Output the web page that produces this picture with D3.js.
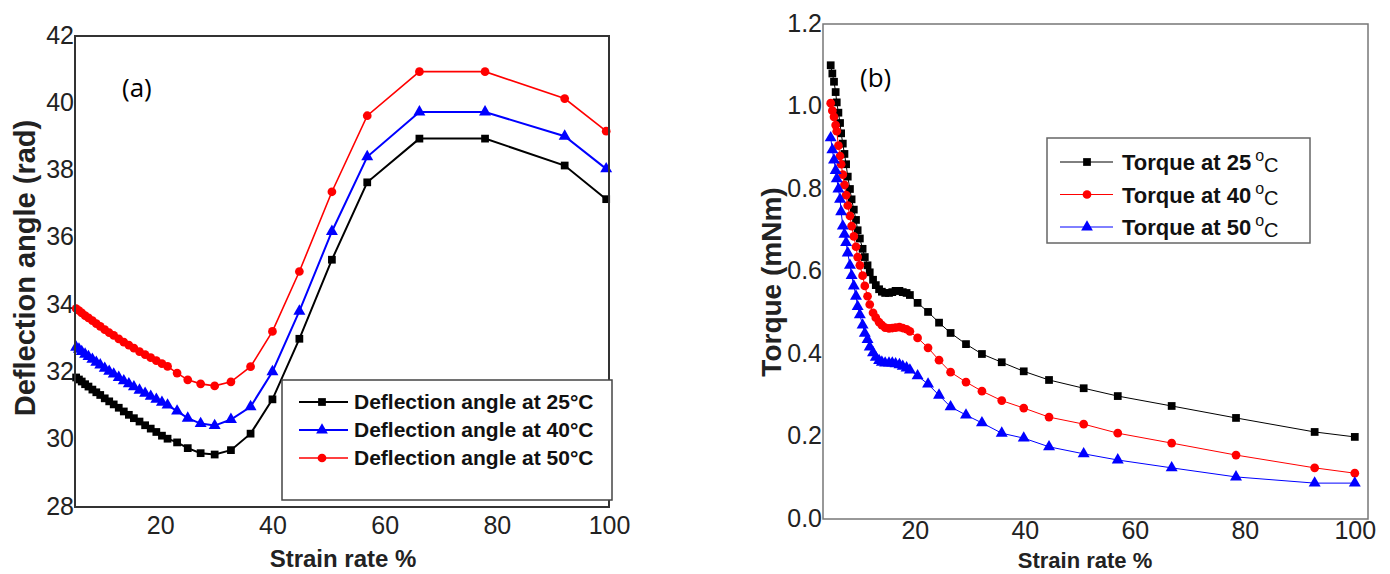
<!DOCTYPE html>
<html>
<head>
<meta charset="utf-8">
<script src="https://cdn.jsdelivr.net/npm/d3@7"></script>
<style>
  body { margin: 0; background: #fff; }
</style>
</head>
<body>
<script>

/* DONNÉES (a) : angle de déflexion */
var strainA = [5.0, 5.5, 6.0, 6.6, 7.2, 7.9, 8.6, 9.3, 10.1, 10.9, 11.7, 12.6, 13.5, 14.4, 15.3, 16.3, 17.3, 18.3, 19.3, 20.3, 21.3,
  23.0, 24.9, 27.2, 29.7, 32.6, 36.1, 40.0, 44.8, 50.6, 56.9, 66.2, 77.9, 92.1, 99.5]
var angle25 = [31.85, 31.79, 31.73, 31.65, 31.58, 31.49, 31.41, 31.33, 31.23, 31.14, 31.05, 30.95, 30.84, 30.74, 30.64, 30.54, 30.43, 30.33, 30.23, 30.12, 30.03,
  29.92, 29.75, 29.6, 29.56, 29.69, 30.18, 31.2, 33.0, 35.35, 37.65, 38.95, 38.95, 38.15, 37.15]
var angle40 = [32.75, 32.69, 32.62, 32.54, 32.47, 32.39, 32.30, 32.22, 32.12, 32.03, 31.95, 31.85, 31.75, 31.66, 31.57, 31.47, 31.38, 31.29, 31.2, 31.11, 31.03,
  30.85, 30.64, 30.48, 30.42, 30.6, 30.98, 32.02, 33.82, 36.19, 38.41, 39.74, 39.74, 39.02, 38.05]
var angle50 = [33.9, 33.84, 33.77, 33.69, 33.62, 33.54, 33.45, 33.37, 33.27, 33.18, 33.1, 33.0, 32.9, 32.81, 32.72, 32.62, 32.53, 32.44, 32.35, 32.26, 32.18,
  31.98, 31.78, 31.66, 31.6, 31.72, 32.17, 33.22, 35.0, 37.37, 39.63, 40.94, 40.94, 40.14, 39.17]
var angleLegend = ["Deflection angle at 25°C", "Deflection angle at 40°C", "Deflection angle at 50°C"]
var angleTicksX = [20, 40, 60, 80, 100]
var angleTicksY = [28, 30, 32, 34, 36, 38, 40, 42]

/* DONNÉES (b) : couple */
var strainB = [4.7, 5.0, 5.3, 5.6, 5.8, 6.1, 6.4, 6.6, 6.9, 7.2, 7.5, 7.8, 8.2, 8.5, 8.9, 9.3, 9.6, 10.0,
  10.5, 10.9, 11.4, 11.8, 12.4, 12.9, 13.5, 14.0, 14.6, 15.3, 15.9, 16.5, 17.2, 17.8, 18.5, 19.1,
  20.5, 22.4, 24.4, 26.5, 29.3, 32.2, 35.8, 39.8, 44.4, 50.7, 56.9, 66.7, 78.4, 92.7, 100]
var torque25 = [1.10, 1.08, 1.06, 1.035, 1.01, 0.985, 0.96, 0.935, 0.91, 0.885, 0.86, 0.83, 0.80, 0.775, 0.75, 0.725, 0.70, 0.68,
  0.655, 0.635, 0.615, 0.598, 0.58, 0.567, 0.557, 0.551, 0.548, 0.548, 0.55, 0.553, 0.553, 0.55, 0.548, 0.543,
  0.524, 0.502, 0.476, 0.451, 0.424, 0.40, 0.38, 0.358, 0.337, 0.317, 0.298, 0.274, 0.245, 0.211, 0.199]
var torque40 = [1.008, 0.99, 0.975, 0.955, 0.94, 0.905, 0.88, 0.86, 0.835, 0.81, 0.785, 0.76, 0.735, 0.71, 0.685, 0.66, 0.635, 0.615,
  0.59, 0.565, 0.54, 0.52, 0.50, 0.488, 0.477, 0.47, 0.464, 0.462, 0.463, 0.464, 0.465, 0.463, 0.46, 0.455,
  0.439, 0.415, 0.385, 0.356, 0.332, 0.31, 0.287, 0.269, 0.247, 0.23, 0.208, 0.184, 0.155, 0.124, 0.111]
var torque50 = [0.924, 0.895, 0.87, 0.845, 0.825, 0.80, 0.775, 0.745, 0.71, 0.69, 0.67, 0.645, 0.615, 0.59, 0.565, 0.54, 0.515, 0.495,
  0.47, 0.45, 0.435, 0.417, 0.403, 0.392, 0.384, 0.38, 0.378, 0.378, 0.378, 0.376, 0.374, 0.37, 0.366, 0.361,
  0.347, 0.327, 0.30, 0.272, 0.252, 0.233, 0.208, 0.196, 0.175, 0.158, 0.143, 0.124, 0.102, 0.087, 0.087]
var torqueLegend = ["25", "40", "50"]
var torqueTicksX = [20, 40, 60, 80, 100]
var torqueTicksY = [0.0, 0.2, 0.4, 0.6, 0.8, 1.0, 1.2]

var svg = d3.select("body").append("svg")
  .attr("width", 1390)
  .attr("height", 574)

var tickFont = "'Liberation Sans', Arial, sans-serif"
var boldFont = "'Liberation Sans', Arial, sans-serif"

function axes(x, y, fmtY, ticksX, ticksY, padX) {
  var gx = svg.append("g")
    .attr("transform", "translate(0," + y.range()[0] + ")")
    .call(d3.axisBottom(x).tickValues(ticksX).tickSize(0).tickPadding(padX))
  var gy = svg.append("g")
    .attr("transform", "translate(" + x.range()[0] + ",0)")
    .call(d3.axisLeft(y).tickValues(ticksY).tickSize(0).tickPadding(1).tickFormat(d3.format(fmtY)))
  ;[gx, gy].forEach(function(g) {
    g.select(".domain").remove()
    g.selectAll("text")
      .attr("font-family", tickFont)
      .attr("font-size", 25)
      .attr("fill", "#222")
  })
  gy.selectAll("text").attr("dy", "0.28em")
}

function serie(x, y, xs, ys, color, shape, width) {
  var pts = xs.map(function(d, i) { return [d, ys[i]] })
  svg.append("path")
    .datum(pts)
    .attr("fill", "none")
    .attr("stroke", color)
    .attr("stroke-width", width)
    .attr("d", d3.line().x(function(d) { return x(d[0]) }).y(function(d) { return y(d[1]) }))
  svg.append("g").selectAll("path")
    .data(pts)
    .enter()
    .append("path")
    .attr("transform", function(d) { return "translate(" + x(d[0]) + "," + y(d[1]) + ")" })
    .attr("d", d3.symbol().type(shape).size(shape == d3.symbolTriangle ? 62 : 60))
    .attr("fill", color)
}

/* GRAPHIQUE (a) */

var xA = d3.scaleLinear().domain([4.8, 100]).range([75, 609])
var yA = d3.scaleLinear().domain([28, 42]).range([507, 36])

axes(xA, yA, "d", angleTicksX, angleTicksY, 9)

serie(xA, yA, strainA, angle25, "#000", d3.symbolSquare, 2)
serie(xA, yA, strainA, angle40, "#0000ff", d3.symbolTriangle, 2)
serie(xA, yA, strainA, angle50, "#ff0000", d3.symbolCircle, 1.6)

svg.append("rect")
  .attr("x", 75).attr("y", 36).attr("width", 534).attr("height", 471)
  .attr("fill", "none").attr("stroke", "#333").attr("stroke-width", 2)

svg.append("text")
  .attr("x", 122).attr("y", 97)
  .attr("font-family", "'Open Sans', sans-serif").attr("font-size", 26)
  .text("(a)")

svg.append("text")
  .attr("x", 343).attr("y", 567)
  .attr("text-anchor", "middle")
  .attr("font-family", boldFont).attr("font-weight", "bold").attr("font-size", 24)
  .attr("fill", "#222")
  .text("Strain rate %")

svg.append("text")
  .attr("transform", "translate(35,268) rotate(-90)")
  .attr("text-anchor", "middle")
  .attr("font-family", boldFont).attr("font-weight", "bold").attr("font-size", 29)
  .attr("fill", "#222")
  .text("Deflection angle (rad)")

// légende (a)
svg.append("rect")
  .attr("x", 282).attr("y", 380).attr("width", 330).attr("height", 120)
  .attr("fill", "#fff").attr("stroke", "#444").attr("stroke-width", 1.5)

var legA = [["#000", d3.symbolSquare], ["#0000ff", d3.symbolTriangle], ["#ff0000", d3.symbolCircle]]
legA.forEach(function(d, i) {
  var yy = 402 + i * 28
  svg.append("line")
    .attr("x1", 299).attr("x2", 348).attr("y1", yy).attr("y2", yy)
    .attr("stroke", d[0]).attr("stroke-width", i == 2 ? 1.4 : 2)
  svg.append("path")
    .attr("transform", "translate(322," + yy + ")")
    .attr("d", d3.symbol().type(d[1]).size(60))
    .attr("fill", d[0])
  svg.append("text")
    .attr("x", 354).attr("y", yy + 7)
    .attr("font-family", tickFont).attr("font-weight", "bold").attr("font-size", 21)
    .attr("fill", "#111")
    .text(angleLegend[i])
})

/* GRAPHIQUE (b) */

var xB = d3.scaleLinear().domain([3.3, 102.4]).range([823, 1368])
var yB = d3.scaleLinear().domain([0, 1.2]).range([519, 24])

axes(xB, yB, ".1f", torqueTicksX, torqueTicksY, 2)

serie(xB, yB, strainB, torque25, "#000", d3.symbolSquare, 1)
serie(xB, yB, strainB, torque40, "#ff0000", d3.symbolCircle, 1)
serie(xB, yB, strainB, torque50, "#0000ff", d3.symbolTriangle, 1)

svg.append("rect")
  .attr("x", 823).attr("y", 24).attr("width", 545).attr("height", 495)
  .attr("fill", "none").attr("stroke", "#777").attr("stroke-width", 1.5)

svg.append("text")
  .attr("x", 860).attr("y", 87)
  .attr("font-family", "'Open Sans', sans-serif").attr("font-size", 26)
  .text("(b)")

svg.append("text")
  .attr("x", 1085).attr("y", 568)
  .attr("text-anchor", "middle")
  .attr("font-family", boldFont).attr("font-weight", "bold").attr("font-size", 22)
  .attr("fill", "#222")
  .text("Strain rate %")

svg.append("text")
  .attr("transform", "translate(781,282) rotate(-90)")
  .attr("text-anchor", "middle")
  .attr("font-family", boldFont).attr("font-weight", "bold").attr("font-size", 28)
  .attr("fill", "#222")
  .text("Torque (mNm)")

// légende (b)
svg.append("rect")
  .attr("x", 1047).attr("y", 138).attr("width", 263).attr("height", 105)
  .attr("fill", "#fff").attr("stroke", "#666").attr("stroke-width", 1.5)

var legB = [["#000", d3.symbolSquare], ["#ff0000", d3.symbolCircle], ["#0000ff", d3.symbolTriangle]]
legB.forEach(function(d, i) {
  var yy = 162 + i * 32.5
  svg.append("line")
    .attr("x1", 1060).attr("x2", 1113).attr("y1", yy).attr("y2", yy)
    .attr("stroke", d[0]).attr("stroke-width", 1)
  svg.append("path")
    .attr("transform", "translate(1087," + yy + ")")
    .attr("d", d3.symbol().type(d[1]).size(60))
    .attr("fill", d[0])
  var t = svg.append("text")
    .attr("x", 1122).attr("y", yy + 8)
    .attr("font-family", tickFont).attr("font-size", 22)
    .attr("fill", "#111")
  t.append("tspan").attr("font-weight", "bold").text("Torque at " + torqueLegend[i])
  t.append("tspan").attr("dx", 4).attr("dy", -9).attr("font-size", 16).text("o")
  t.append("tspan").attr("dy", 11).attr("font-size", 20).text("C")
})

</script>
</body>
</html>
